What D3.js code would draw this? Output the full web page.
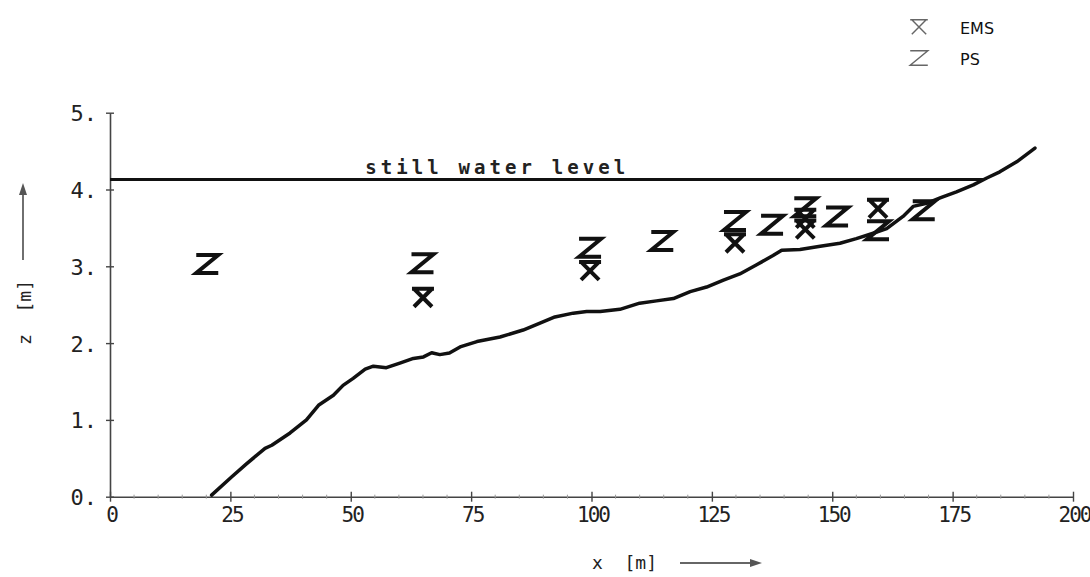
<!DOCTYPE html>
<html>
<head>
<meta charset="utf-8">
<script src="https://cdn.jsdelivr.net/npm/d3@7"></script>
<style>
  html, body { margin: 0; padding: 0; background: #fff; }
  svg { display: block; }
</style>
</head>
<body>
<svg id="chart" width="1090" height="577"></svg>
<script>
// ---- data ----
const profileX = [21.1, 25.3, 28.4, 32.2, 33.6, 37.4, 40.8, 43.3, 46.4, 48.4, 50.5, 53.0, 54.7, 57.4, 60.2, 63.0, 65.1, 66.8, 68.5, 70.5, 72.7, 76.2, 81.0, 85.8, 89.3, 92.4, 96.2, 99.0, 101.8, 105.9, 110.0, 113.5, 117.0, 120.5, 123.9, 127.4, 130.8, 134.3, 137.7, 139.5, 143.3, 147.5, 151.6, 155.0, 158.5, 161.3, 164.7, 166.8, 169.6, 172.4, 175.8, 179.3, 182.1, 184.8, 188.3, 192.1];
const profileZ = [0.02, 0.26, 0.43, 0.63, 0.67, 0.83, 1.00, 1.19, 1.32, 1.45, 1.54, 1.66, 1.70, 1.68, 1.74, 1.80, 1.82, 1.875, 1.85, 1.87, 1.95, 2.02, 2.08, 2.17, 2.26, 2.34, 2.39, 2.41, 2.41, 2.44, 2.52, 2.55, 2.58, 2.67, 2.73, 2.82, 2.90, 3.02, 3.14, 3.21, 3.22, 3.26, 3.30, 3.36, 3.43, 3.49, 3.65, 3.78, 3.82, 3.89, 3.97, 4.06, 4.15, 4.23, 4.36, 4.54];

const emsX = [65, 99.7, 129.8, 144.4, 144.4, 159.5];
const emsZ = [2.59, 2.94, 3.30, 3.62, 3.48, 3.75];

const psX = [20.2, 64.9, 99.7, 114.7, 129.8, 137.5, 144.4, 151.0, 159.5, 169.0];
const psZ = [3.03, 3.04, 3.24, 3.33, 3.59, 3.54, 3.77, 3.65, 3.47, 3.73];

const stillWaterLevel = 4.13;
const stillWaterEndX = 181.5;

const xTicks = [0, 25, 50, 75, 100, 125, 150, 175, 200];
const yTicks = [0, 1, 2, 3, 4, 5];

// ---- layout ----
const svg = d3.select("#chart");
const x = d3.scaleLinear().domain([0, 200]).range([110, 1073]);
const y = d3.scaleLinear().domain([0, 5]).range([496.7, 112.7]);
const mono = "'DejaVu Sans Mono', 'Liberation Mono', monospace";

// axes
const gx = svg.append("g").attr("transform", `translate(0,${y(0)})`)
  .call(d3.axisBottom(x).tickValues(xTicks).tickSize(0).tickPadding(10).tickFormat(d3.format("d")));
gx.select(".domain").attr("stroke", "#444").attr("stroke-width", 1.6);
gx.selectAll("text").attr("font-family", mono).attr("font-size", 21).attr("fill", "#222")
  .attr("letter-spacing", -2).attr("dx", 1);
gx.selectAll(".tick").append("line").attr("y1", -5).attr("y2", 5).attr("stroke", "#444").attr("stroke-width", 1.4);

const gy = svg.append("g").attr("transform", `translate(${x(0)},0)`)
  .call(d3.axisLeft(y).tickValues(yTicks).tickSize(0).tickPadding(13).tickFormat(d => d + "."));
gy.select(".domain").attr("stroke", "#444").attr("stroke-width", 1.6);
gy.selectAll("text").attr("font-family", mono).attr("font-size", 22).attr("fill", "#222").attr("dy", "0.36em");
gy.selectAll(".tick").append("line").attr("x1", -4).attr("x2", 4).attr("stroke", "#444").attr("stroke-width", 1.4);

// minor ticks on x axis
const minor = d3.range(5, 200, 5).filter(v => v % 25 !== 0);
svg.append("g").selectAll("line").data(minor).join("line")
  .attr("x1", d => x(d)).attr("x2", d => x(d))
  .attr("y1", y(0) - 2).attr("y2", y(0) + 2)
  .attr("stroke", "#999").attr("stroke-width", 1);

// axis labels
svg.append("text").attr("x", 592).attr("y", 569)
  .attr("font-family", mono).attr("font-size", 18).attr("fill", "#222")
  .attr("xml:space", "preserve").text("x  [m]");
svg.append("line").attr("x1", 680).attr("x2", 752).attr("y1", 563).attr("y2", 563)
  .attr("stroke", "#333").attr("stroke-width", 1.4);
svg.append("path").attr("d", "M750,559 L762,563 L750,567 Z").attr("fill", "#555");

svg.append("text").attr("transform", "translate(31,345) rotate(-90)")
  .attr("font-family", mono).attr("font-size", 18).attr("fill", "#222")
  .attr("xml:space", "preserve").text("z  [m]");
svg.append("line").attr("x1", 23).attr("x2", 23).attr("y1", 260).attr("y2", 193)
  .attr("stroke", "#333").attr("stroke-width", 1.4);
svg.append("path").attr("d", "M19,195 L23,183 L27,195 Z").attr("fill", "#555");

// still water level
svg.append("line")
  .attr("x1", x(0)).attr("x2", x(stillWaterEndX))
  .attr("y1", y(stillWaterLevel)).attr("y2", y(stillWaterLevel))
  .attr("stroke", "#111").attr("stroke-width", 3);
svg.append("text").attr("x", x(53)).attr("y", y(stillWaterLevel) - 6)
  .attr("font-family", mono).attr("font-size", 19).attr("font-weight", "bold")
  .attr("letter-spacing", 4.1).attr("fill", "#222").text("still water level");

// profile
const profile = profileX.map((v, i) => [v, profileZ[i]]);
svg.append("path").datum(profile)
  .attr("d", d3.line().x(d => x(d[0])).y(d => y(d[1])))
  .attr("fill", "none").attr("stroke", "#111").attr("stroke-width", 3.5)
  .attr("stroke-linejoin", "round").attr("stroke-linecap", "round");

// marker shapes
const w = 11, h = 9;
const zPath = `M${-w},${-h} L${w},${-h} L${-w},${h} L${w},${h}`;
const xPath = `M${-w},${-h} L${w},${-h} M${-w + 2},${-h} L${w - 2},${h} M${w - 2},${-h} L${-w + 2},${h}`;

svg.append("g").selectAll("path").data(psX.map((v, i) => [v, psZ[i]])).join("path")
  .attr("transform", d => `translate(${x(d[0])},${y(d[1])})`)
  .attr("d", zPath).attr("fill", "none").attr("stroke", "#111").attr("stroke-width", 4)
  .attr("stroke-linejoin", "miter");

svg.append("g").selectAll("path").data(emsX.map((v, i) => [v, emsZ[i]])).join("path")
  .attr("transform", d => `translate(${x(d[0])},${y(d[1])})`)
  .attr("d", xPath).attr("fill", "none").attr("stroke", "#111").attr("stroke-width", 4);

// legend
const leg = svg.append("g");
leg.append("path").attr("transform", "translate(919,27) scale(0.8)")
  .attr("d", xPath).attr("fill", "none").attr("stroke", "#666").attr("stroke-width", 1.8);
leg.append("path").attr("transform", "translate(919,58) scale(0.8)")
  .attr("d", zPath).attr("fill", "none").attr("stroke", "#666").attr("stroke-width", 1.8);
leg.append("text").attr("x", 960).attr("y", 34).attr("font-family", "'DejaVu Sans', sans-serif")
  .attr("font-size", 16).attr("fill", "#111").text("EMS");
leg.append("text").attr("x", 960).attr("y", 65).attr("font-family", "'DejaVu Sans', sans-serif")
  .attr("font-size", 16).attr("fill", "#111").text("PS");
</script>
</body>
</html>
